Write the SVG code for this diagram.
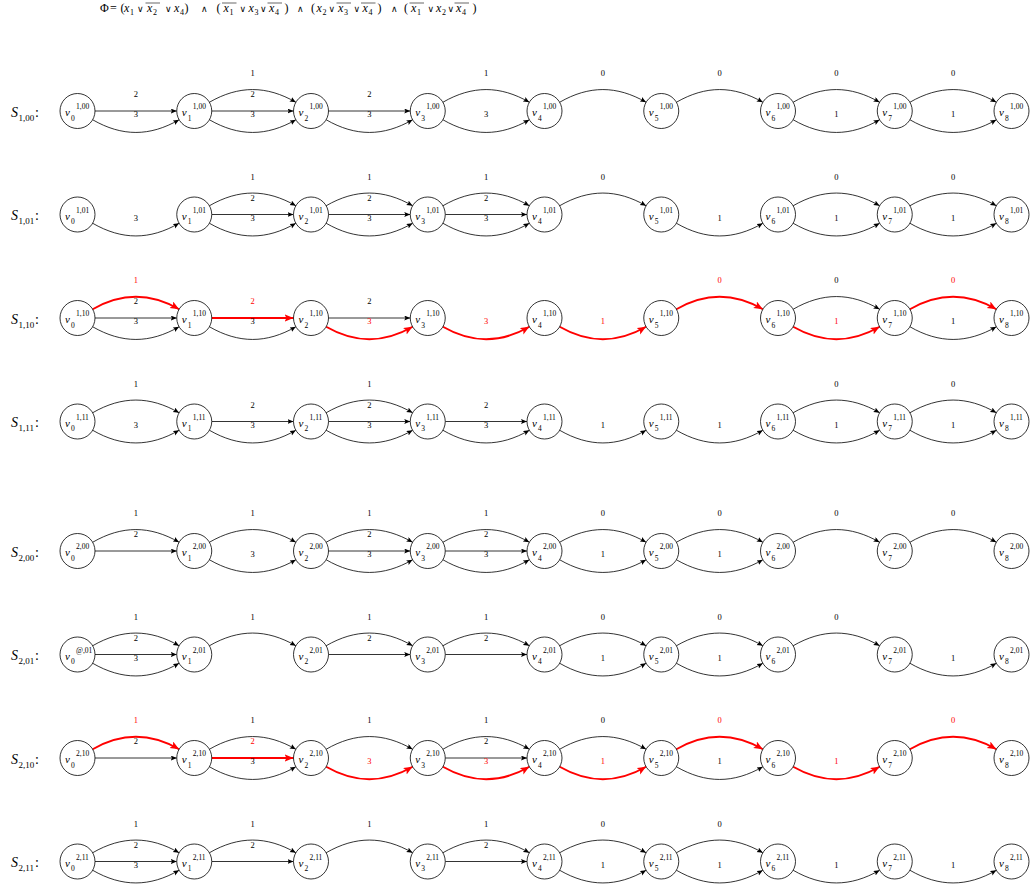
<svg xmlns="http://www.w3.org/2000/svg" width="1031" height="890" viewBox="0 0 1031 890">
<style>
.nd circle{fill:#fff;stroke:#000;stroke-width:0.8}
.v{font-family:"Liberation Serif",serif;font-style:italic;font-size:11px;fill:#000}
.s{font-style:normal;font-size:7.5px}
.e{fill:none;stroke:#000;stroke-width:0.8;marker-end:url(#ak)}
.er{fill:none;stroke:#f00;stroke-width:2;marker-end:url(#ar)}
.l{font-family:"Liberation Serif",serif;font-size:8.5px;text-anchor:middle;fill:#000}
.lr{fill:#f00}
.S{font-family:"Liberation Serif",serif;font-size:14px;font-style:italic}
.Ss{font-style:normal;font-size:9px}
.n{font-style:normal}
.f{font-family:"Liberation Serif","DejaVu Serif",serif;font-size:12px}
.fi{font-style:italic}
.fs{font-size:8px;font-style:normal}
.op{font-family:"DejaVu Serif",serif;font-size:9px}
.ov{stroke:#000;stroke-width:0.6}
</style>
<defs>
<marker id="ak" markerUnits="userSpaceOnUse" markerWidth="8" markerHeight="6" refX="6" refY="2.5" orient="auto"><path d="M0,0 L6,2.5 L0,5 L1.2,2.5 z" fill="#000"/></marker>
<marker id="ar" markerUnits="userSpaceOnUse" markerWidth="12" markerHeight="10" refX="9" refY="3.75" orient="auto"><path d="M0,0 L9,3.75 L0,7.5 L2,3.75 z" fill="#f00"/></marker>
</defs>
<g id="formula">
<text class="f" y="12"><tspan x="100">Φ</tspan><tspan x="110">=</tspan><tspan x="120.5">(</tspan><tspan class="fi" x="124">x</tspan><tspan class="fs" x="130" y="14.5">1</tspan><tspan class="op" x="137" y="12">∨</tspan><tspan class="fi" x="147">x</tspan><tspan class="fs" x="153" y="14.5">2</tspan><tspan class="op" x="165" y="12">∨</tspan><tspan class="fi" x="174">x</tspan><tspan class="fs" x="180" y="14.5">4</tspan><tspan x="184.5" y="12">)</tspan><tspan class="op" x="201">∧</tspan><tspan x="216.5">(</tspan><tspan class="fi" x="223.5">x</tspan><tspan class="fs" x="229.5" y="14.5">1</tspan><tspan class="op" x="239.5" y="12">∨</tspan><tspan class="fi" x="248.5">x</tspan><tspan class="fs" x="254.5" y="14.5">3</tspan><tspan class="op" x="260" y="12">∨</tspan><tspan class="fi" x="269">x</tspan><tspan class="fs" x="275" y="14.5">4</tspan><tspan x="284.5" y="12">)</tspan><tspan class="op" x="297">∧</tspan><tspan x="311">(</tspan><tspan class="fi" x="316.5">x</tspan><tspan class="fs" x="322.5" y="14.5">2</tspan><tspan class="op" x="328.5" y="12">∨</tspan><tspan class="fi" x="338">x</tspan><tspan class="fs" x="344" y="14.5">3</tspan><tspan class="op" x="353.5" y="12">∨</tspan><tspan class="fi" x="362.5">x</tspan><tspan class="fs" x="368.5" y="14.5">4</tspan><tspan x="377.5" y="12">)</tspan><tspan class="op" x="391">∧</tspan><tspan x="404">(</tspan><tspan class="fi" x="411">x</tspan><tspan class="fs" x="417" y="14.5">1</tspan><tspan class="op" x="427.5" y="12">∨</tspan><tspan class="fi" x="436">x</tspan><tspan class="fs" x="442" y="14.5">2</tspan><tspan class="op" x="447.5" y="12">∨</tspan><tspan class="fi" x="456">x</tspan><tspan class="fs" x="462" y="14.5">4</tspan><tspan x="472.5" y="12">)</tspan></text>
<line class="ov" x1="145.5" y1="3" x2="160" y2="3"/>
<line class="ov" x1="222" y1="3" x2="236.5" y2="3"/>
<line class="ov" x1="267.5" y1="3" x2="282" y2="3"/>
<line class="ov" x1="336.5" y1="3" x2="351" y2="3"/>
<line class="ov" x1="361" y1="3" x2="375.5" y2="3"/>
<line class="ov" x1="409.5" y1="3" x2="424" y2="3"/>
<line class="ov" x1="454.5" y1="3" x2="469" y2="3"/>
</g>
<g id="row-labels">
<text class="S" x="11" y="116.5">S<tspan class="Ss" x="18.5" y="120.5">1,00</tspan><tspan class="n" x="35" y="116.5">:</tspan></text>
<text class="S" x="11" y="220">S<tspan class="Ss" x="18.5" y="224">1,01</tspan><tspan class="n" x="35" y="220">:</tspan></text>
<text class="S" x="11" y="323.5">S<tspan class="Ss" x="18.5" y="327.5">1,10</tspan><tspan class="n" x="35" y="323.5">:</tspan></text>
<text class="S" x="11" y="427">S<tspan class="Ss" x="18.5" y="431">1,11</tspan><tspan class="n" x="35" y="427">:</tspan></text>
<text class="S" x="11" y="556.5">S<tspan class="Ss" x="18.5" y="560.5">2,00</tspan><tspan class="n" x="35" y="556.5">:</tspan></text>
<text class="S" x="11" y="660">S<tspan class="Ss" x="18.5" y="664">2,01</tspan><tspan class="n" x="35" y="660">:</tspan></text>
<text class="S" x="11" y="763.5">S<tspan class="Ss" x="18.5" y="767.5">2,10</tspan><tspan class="n" x="35" y="763.5">:</tspan></text>
<text class="S" x="11" y="867">S<tspan class="Ss" x="18.5" y="871">2,11</tspan><tspan class="n" x="35" y="867">:</tspan></text>
</g>
<g id="connectors">
<!-- Row 1 y=111 -->
<path class="e" d="M95,111h81.75"/><path class="e" d="M92.66,119.75c29.31,16.92 57.12,16.92 86.43,0"/>
<text class="l" x="135.88" y="97">2</text><text class="l" x="135.88" y="117">3</text>
<path class="e" d="M209.41,102.25c29.31,-16.92 57.12,-16.92 86.43,0"/><path class="e" d="M211.75,111h81.75"/><path class="e" d="M209.41,119.75c29.31,16.92 57.12,16.92 86.43,0"/>
<text class="l" x="252.63" y="76">1</text><text class="l" x="252.63" y="97">2</text><text class="l" x="252.63" y="117">3</text>
<path class="e" d="M328.5,111h81.75"/><path class="e" d="M326.16,119.75c29.31,16.92 57.12,16.92 86.43,0"/>
<text class="l" x="369.38" y="97">2</text><text class="l" x="369.38" y="117">3</text>
<path class="e" d="M442.91,102.25c29.31,-16.92 57.12,-16.92 86.43,0"/><path class="e" d="M442.91,119.75c29.31,16.92 57.12,16.92 86.43,0"/>
<text class="l" x="486.13" y="76">1</text><text class="l" x="486.13" y="117">3</text>
<path class="e" d="M559.66,102.25c29.31,-16.92 57.12,-16.92 86.43,0"/>
<text class="l" x="602.88" y="76">0</text>
<path class="e" d="M676.41,102.25c29.31,-16.92 57.12,-16.92 86.43,0"/>
<text class="l" x="719.63" y="76">0</text>
<path class="e" d="M793.16,102.25c29.31,-16.92 57.12,-16.92 86.43,0"/><path class="e" d="M793.16,119.75c29.31,16.92 57.12,16.92 86.43,0"/>
<text class="l" x="836.38" y="76">0</text><text class="l" x="836.38" y="117">1</text>
<path class="e" d="M909.91,102.25c29.31,-16.92 57.12,-16.92 86.43,0"/><path class="e" d="M909.91,119.75c29.31,16.92 57.12,16.92 86.43,0"/>
<text class="l" x="953.13" y="76">0</text><text class="l" x="953.13" y="117">1</text>
<!-- Row 2 y=214.5 -->
<path class="e" d="M92.66,223.25c29.31,16.92 57.12,16.92 86.43,0"/>
<text class="l" x="135.88" y="220.5">3</text>
<path class="e" d="M209.41,205.75c29.31,-16.92 57.12,-16.92 86.43,0"/><path class="e" d="M211.75,214.5h81.75"/><path class="e" d="M209.41,223.25c29.31,16.92 57.12,16.92 86.43,0"/>
<text class="l" x="252.63" y="179.5">1</text><text class="l" x="252.63" y="200.5">2</text><text class="l" x="252.63" y="220.5">3</text>
<path class="e" d="M326.16,205.75c29.31,-16.92 57.12,-16.92 86.43,0"/><path class="e" d="M328.5,214.5h81.75"/><path class="e" d="M326.16,223.25c29.31,16.92 57.12,16.92 86.43,0"/>
<text class="l" x="369.38" y="179.5">1</text><text class="l" x="369.38" y="200.5">2</text><text class="l" x="369.38" y="220.5">3</text>
<path class="e" d="M442.91,205.75c29.31,-16.92 57.12,-16.92 86.43,0"/><path class="e" d="M445.25,214.5h81.75"/><path class="e" d="M442.91,223.25c29.31,16.92 57.12,16.92 86.43,0"/>
<text class="l" x="486.13" y="179.5">1</text><text class="l" x="486.13" y="200.5">2</text><text class="l" x="486.13" y="220.5">3</text>
<path class="e" d="M559.66,205.75c29.31,-16.92 57.12,-16.92 86.43,0"/>
<text class="l" x="602.88" y="179.5">0</text>
<path class="e" d="M676.41,223.25c29.31,16.92 57.12,16.92 86.43,0"/>
<text class="l" x="719.63" y="220.5">1</text>
<path class="e" d="M793.16,205.75c29.31,-16.92 57.12,-16.92 86.43,0"/><path class="e" d="M793.16,223.25c29.31,16.92 57.12,16.92 86.43,0"/>
<text class="l" x="836.38" y="179.5">0</text><text class="l" x="836.38" y="220.5">1</text>
<path class="e" d="M909.91,205.75c29.31,-16.92 57.12,-16.92 86.43,0"/><path class="e" d="M909.91,223.25c29.31,16.92 57.12,16.92 86.43,0"/>
<text class="l" x="953.13" y="179.5">0</text><text class="l" x="953.13" y="220.5">1</text>
<!-- Row 3 y=318 -->
<path class="er" d="M92.66,309.25c29.31,-16.92 57.12,-16.92 86.43,0"/><path class="e" d="M95,318h81.75"/><path class="e" d="M92.66,326.75c29.31,16.92 57.12,16.92 86.43,0"/>
<text class="l lr" x="135.88" y="283">1</text><text class="l" x="135.88" y="304">2</text><text class="l" x="135.88" y="324">3</text>
<path class="er" d="M211.75,318h81.75"/><path class="e" d="M209.41,326.75c29.31,16.92 57.12,16.92 86.43,0"/>
<text class="l lr" x="252.63" y="304">2</text><text class="l" x="252.63" y="324">3</text>
<path class="e" d="M328.5,318h81.75"/><path class="er" d="M326.16,326.75c29.31,16.92 57.12,16.92 86.43,0"/>
<text class="l" x="369.38" y="304">2</text><text class="l lr" x="369.38" y="324">3</text>
<path class="er" d="M442.91,326.75c29.31,16.92 57.12,16.92 86.43,0"/>
<text class="l lr" x="486.13" y="324">3</text>
<path class="er" d="M559.66,326.75c29.31,16.92 57.12,16.92 86.43,0"/>
<text class="l lr" x="602.88" y="324">1</text>
<path class="er" d="M676.41,309.25c29.31,-16.92 57.12,-16.92 86.43,0"/>
<text class="l lr" x="719.63" y="283">0</text>
<path class="e" d="M793.16,309.25c29.31,-16.92 57.12,-16.92 86.43,0"/><path class="er" d="M793.16,326.75c29.31,16.92 57.12,16.92 86.43,0"/>
<text class="l" x="836.38" y="283">0</text><text class="l lr" x="836.38" y="324">1</text>
<path class="er" d="M909.91,309.25c29.31,-16.92 57.12,-16.92 86.43,0"/><path class="e" d="M909.91,326.75c29.31,16.92 57.12,16.92 86.43,0"/>
<text class="l lr" x="953.13" y="283">0</text><text class="l" x="953.13" y="324">1</text>
<!-- Row 4 y=421.5 -->
<path class="e" d="M92.66,412.75c29.31,-16.92 57.12,-16.92 86.43,0"/><path class="e" d="M92.66,430.25c29.31,16.92 57.12,16.92 86.43,0"/>
<text class="l" x="135.88" y="386.5">1</text><text class="l" x="135.88" y="427.5">3</text>
<path class="e" d="M211.75,421.5h81.75"/><path class="e" d="M209.41,430.25c29.31,16.92 57.12,16.92 86.43,0"/>
<text class="l" x="252.63" y="407.5">2</text><text class="l" x="252.63" y="427.5">3</text>
<path class="e" d="M326.16,412.75c29.31,-16.92 57.12,-16.92 86.43,0"/><path class="e" d="M328.5,421.5h81.75"/><path class="e" d="M326.16,430.25c29.31,16.92 57.12,16.92 86.43,0"/>
<text class="l" x="369.38" y="386.5">1</text><text class="l" x="369.38" y="407.5">2</text><text class="l" x="369.38" y="427.5">3</text>
<path class="e" d="M445.25,421.5h81.75"/><path class="e" d="M442.91,430.25c29.31,16.92 57.12,16.92 86.43,0"/>
<text class="l" x="486.13" y="407.5">2</text><text class="l" x="486.13" y="427.5">3</text>
<path class="e" d="M559.66,430.25c29.31,16.92 57.12,16.92 86.43,0"/>
<text class="l" x="602.88" y="427.5">1</text>
<path class="e" d="M676.41,430.25c29.31,16.92 57.12,16.92 86.43,0"/>
<text class="l" x="719.63" y="427.5">1</text>
<path class="e" d="M793.16,412.75c29.31,-16.92 57.12,-16.92 86.43,0"/><path class="e" d="M793.16,430.25c29.31,16.92 57.12,16.92 86.43,0"/>
<text class="l" x="836.38" y="386.5">0</text><text class="l" x="836.38" y="427.5">1</text>
<path class="e" d="M909.91,412.75c29.31,-16.92 57.12,-16.92 86.43,0"/><path class="e" d="M909.91,430.25c29.31,16.92 57.12,16.92 86.43,0"/>
<text class="l" x="953.13" y="386.5">0</text><text class="l" x="953.13" y="427.5">1</text>
<!-- Row 5 y=551 -->
<path class="e" d="M92.66,542.25c29.31,-16.92 57.12,-16.92 86.43,0"/><path class="e" d="M95,551h81.75"/>
<text class="l" x="135.88" y="516">1</text><text class="l" x="135.88" y="537">2</text>
<path class="e" d="M209.41,542.25c29.31,-16.92 57.12,-16.92 86.43,0"/><path class="e" d="M209.41,559.75c29.31,16.92 57.12,16.92 86.43,0"/>
<text class="l" x="252.63" y="516">1</text><text class="l" x="252.63" y="557">3</text>
<path class="e" d="M326.16,542.25c29.31,-16.92 57.12,-16.92 86.43,0"/><path class="e" d="M328.5,551h81.75"/><path class="e" d="M326.16,559.75c29.31,16.92 57.12,16.92 86.43,0"/>
<text class="l" x="369.38" y="516">1</text><text class="l" x="369.38" y="537">2</text><text class="l" x="369.38" y="557">3</text>
<path class="e" d="M442.91,542.25c29.31,-16.92 57.12,-16.92 86.43,0"/><path class="e" d="M445.25,551h81.75"/><path class="e" d="M442.91,559.75c29.31,16.92 57.12,16.92 86.43,0"/>
<text class="l" x="486.13" y="516">1</text><text class="l" x="486.13" y="537">2</text><text class="l" x="486.13" y="557">3</text>
<path class="e" d="M559.66,542.25c29.31,-16.92 57.12,-16.92 86.43,0"/><path class="e" d="M559.66,559.75c29.31,16.92 57.12,16.92 86.43,0"/>
<text class="l" x="602.88" y="516">0</text><text class="l" x="602.88" y="557">1</text>
<path class="e" d="M676.41,542.25c29.31,-16.92 57.12,-16.92 86.43,0"/><path class="e" d="M676.41,559.75c29.31,16.92 57.12,16.92 86.43,0"/>
<text class="l" x="719.63" y="516">0</text><text class="l" x="719.63" y="557">1</text>
<path class="e" d="M793.16,542.25c29.31,-16.92 57.12,-16.92 86.43,0"/>
<text class="l" x="836.38" y="516">0</text>
<path class="e" d="M909.91,542.25c29.31,-16.92 57.12,-16.92 86.43,0"/>
<text class="l" x="953.13" y="516">0</text>
<!-- Row 6 y=654.5 -->
<path class="e" d="M92.66,645.75c29.31,-16.92 57.12,-16.92 86.43,0"/><path class="e" d="M95,654.5h81.75"/><path class="e" d="M92.66,663.25c29.31,16.92 57.12,16.92 86.43,0"/>
<text class="l" x="135.88" y="619.5">1</text><text class="l" x="135.88" y="640.5">2</text><text class="l" x="135.88" y="660.5">3</text>
<path class="e" d="M209.41,645.75c29.31,-16.92 57.12,-16.92 86.43,0"/>
<text class="l" x="252.63" y="619.5">1</text>
<path class="e" d="M326.16,645.75c29.31,-16.92 57.12,-16.92 86.43,0"/><path class="e" d="M328.5,654.5h81.75"/>
<text class="l" x="369.38" y="619.5">1</text><text class="l" x="369.38" y="640.5">2</text>
<path class="e" d="M442.91,645.75c29.31,-16.92 57.12,-16.92 86.43,0"/><path class="e" d="M445.25,654.5h81.75"/>
<text class="l" x="486.13" y="619.5">1</text><text class="l" x="486.13" y="640.5">2</text>
<path class="e" d="M559.66,645.75c29.31,-16.92 57.12,-16.92 86.43,0"/><path class="e" d="M559.66,663.25c29.31,16.92 57.12,16.92 86.43,0"/>
<text class="l" x="602.88" y="619.5">0</text><text class="l" x="602.88" y="660.5">1</text>
<path class="e" d="M676.41,645.75c29.31,-16.92 57.12,-16.92 86.43,0"/><path class="e" d="M676.41,663.25c29.31,16.92 57.12,16.92 86.43,0"/>
<text class="l" x="719.63" y="619.5">0</text><text class="l" x="719.63" y="660.5">1</text>
<path class="e" d="M793.16,645.75c29.31,-16.92 57.12,-16.92 86.43,0"/>
<text class="l" x="836.38" y="619.5">0</text>
<path class="e" d="M909.91,663.25c29.31,16.92 57.12,16.92 86.43,0"/>
<text class="l" x="953.13" y="660.5">1</text>
<!-- Row 7 y=758 -->
<path class="er" d="M92.66,749.25c29.31,-16.92 57.12,-16.92 86.43,0"/><path class="e" d="M95,758h81.75"/>
<text class="l lr" x="135.88" y="723">1</text><text class="l" x="135.88" y="744">2</text>
<path class="e" d="M209.41,749.25c29.31,-16.92 57.12,-16.92 86.43,0"/><path class="er" d="M211.75,758h81.75"/><path class="e" d="M209.41,766.75c29.31,16.92 57.12,16.92 86.43,0"/>
<text class="l" x="252.63" y="723">1</text><text class="l lr" x="252.63" y="744">2</text><text class="l" x="252.63" y="764">3</text>
<path class="e" d="M326.16,749.25c29.31,-16.92 57.12,-16.92 86.43,0"/><path class="er" d="M326.16,766.75c29.31,16.92 57.12,16.92 86.43,0"/>
<text class="l" x="369.38" y="723">1</text><text class="l lr" x="369.38" y="764">3</text>
<path class="e" d="M442.91,749.25c29.31,-16.92 57.12,-16.92 86.43,0"/><path class="e" d="M445.25,758h81.75"/><path class="er" d="M442.91,766.75c29.31,16.92 57.12,16.92 86.43,0"/>
<text class="l" x="486.13" y="723">1</text><text class="l" x="486.13" y="744">2</text><text class="l lr" x="486.13" y="764">3</text>
<path class="e" d="M559.66,749.25c29.31,-16.92 57.12,-16.92 86.43,0"/><path class="er" d="M559.66,766.75c29.31,16.92 57.12,16.92 86.43,0"/>
<text class="l" x="602.88" y="723">0</text><text class="l lr" x="602.88" y="764">1</text>
<path class="er" d="M676.41,749.25c29.31,-16.92 57.12,-16.92 86.43,0"/><path class="e" d="M676.41,766.75c29.31,16.92 57.12,16.92 86.43,0"/>
<text class="l lr" x="719.63" y="723">0</text><text class="l" x="719.63" y="764">1</text>
<path class="er" d="M793.16,766.75c29.31,16.92 57.12,16.92 86.43,0"/>
<text class="l lr" x="836.38" y="764">1</text>
<path class="er" d="M909.91,749.25c29.31,-16.92 57.12,-16.92 86.43,0"/>
<text class="l lr" x="953.13" y="723">0</text>
<!-- Row 8 y=861.5 -->
<path class="e" d="M92.66,852.75c29.31,-16.92 57.12,-16.92 86.43,0"/><path class="e" d="M95,861.5h81.75"/><path class="e" d="M92.66,870.25c29.31,16.92 57.12,16.92 86.43,0"/>
<text class="l" x="135.88" y="826.5">1</text><text class="l" x="135.88" y="847.5">2</text><text class="l" x="135.88" y="867.5">3</text>
<path class="e" d="M209.41,852.75c29.31,-16.92 57.12,-16.92 86.43,0"/><path class="e" d="M211.75,861.5h81.75"/>
<text class="l" x="252.63" y="826.5">1</text><text class="l" x="252.63" y="847.5">2</text>
<path class="e" d="M326.16,852.75c29.31,-16.92 57.12,-16.92 86.43,0"/>
<text class="l" x="369.38" y="826.5">1</text>
<path class="e" d="M442.91,852.75c29.31,-16.92 57.12,-16.92 86.43,0"/><path class="e" d="M445.25,861.5h81.75"/>
<text class="l" x="486.13" y="826.5">1</text><text class="l" x="486.13" y="847.5">2</text>
<path class="e" d="M559.66,852.75c29.31,-16.92 57.12,-16.92 86.43,0"/><path class="e" d="M559.66,870.25c29.31,16.92 57.12,16.92 86.43,0"/>
<text class="l" x="602.88" y="826.5">0</text><text class="l" x="602.88" y="867.5">1</text>
<path class="e" d="M676.41,852.75c29.31,-16.92 57.12,-16.92 86.43,0"/><path class="e" d="M676.41,870.25c29.31,16.92 57.12,16.92 86.43,0"/>
<text class="l" x="719.63" y="826.5">0</text><text class="l" x="719.63" y="867.5">1</text>
<path class="e" d="M793.16,870.25c29.31,16.92 57.12,16.92 86.43,0"/>
<text class="l" x="836.38" y="867.5">1</text>
<path class="e" d="M909.91,870.25c29.31,16.92 57.12,16.92 86.43,0"/>
<text class="l" x="953.13" y="867.5">1</text>
</g>
<g id="nodes">
<!-- Row 1 -->
<g id="r100-v0" class="nd"><circle cx="77.5" cy="111" r="17.5"/><text class="v" x="65" y="116">v<tspan class="s" x="71" y="120.5">0</tspan><tspan class="s" x="76" y="109">1,00</tspan></text></g>
<g id="r100-v1" class="nd"><circle cx="194.25" cy="111" r="17.5"/><text class="v" x="181.75" y="116">v<tspan class="s" x="187.75" y="120.5">1</tspan><tspan class="s" x="192.75" y="109">1,00</tspan></text></g>
<g id="r100-v2" class="nd"><circle cx="311" cy="111" r="17.5"/><text class="v" x="298.5" y="116">v<tspan class="s" x="304.5" y="120.5">2</tspan><tspan class="s" x="309.5" y="109">1,00</tspan></text></g>
<g id="r100-v3" class="nd"><circle cx="427.75" cy="111" r="17.5"/><text class="v" x="415.25" y="116">v<tspan class="s" x="421.25" y="120.5">3</tspan><tspan class="s" x="426.25" y="109">1,00</tspan></text></g>
<g id="r100-v4" class="nd"><circle cx="544.5" cy="111" r="17.5"/><text class="v" x="532" y="116">v<tspan class="s" x="538" y="120.5">4</tspan><tspan class="s" x="543" y="109">1,00</tspan></text></g>
<g id="r100-v5" class="nd"><circle cx="661.25" cy="111" r="17.5"/><text class="v" x="648.75" y="116">v<tspan class="s" x="654.75" y="120.5">5</tspan><tspan class="s" x="659.75" y="109">1,00</tspan></text></g>
<g id="r100-v6" class="nd"><circle cx="778" cy="111" r="17.5"/><text class="v" x="765.5" y="116">v<tspan class="s" x="771.5" y="120.5">6</tspan><tspan class="s" x="776.5" y="109">1,00</tspan></text></g>
<g id="r100-v7" class="nd"><circle cx="894.75" cy="111" r="17.5"/><text class="v" x="882.25" y="116">v<tspan class="s" x="888.25" y="120.5">7</tspan><tspan class="s" x="893.25" y="109">1,00</tspan></text></g>
<g id="r100-v8" class="nd"><circle cx="1011.5" cy="111" r="17.5"/><text class="v" x="999" y="116">v<tspan class="s" x="1005" y="120.5">8</tspan><tspan class="s" x="1010" y="109">1,00</tspan></text></g>
<!-- Row 2 -->
<g id="r101-v0" class="nd"><circle cx="77.5" cy="214.5" r="17.5"/><text class="v" x="65" y="219.5">v<tspan class="s" x="71" y="224">0</tspan><tspan class="s" x="76" y="212.5">1,01</tspan></text></g>
<g id="r101-v1" class="nd"><circle cx="194.25" cy="214.5" r="17.5"/><text class="v" x="181.75" y="219.5">v<tspan class="s" x="187.75" y="224">1</tspan><tspan class="s" x="192.75" y="212.5">1,01</tspan></text></g>
<g id="r101-v2" class="nd"><circle cx="311" cy="214.5" r="17.5"/><text class="v" x="298.5" y="219.5">v<tspan class="s" x="304.5" y="224">2</tspan><tspan class="s" x="309.5" y="212.5">1,01</tspan></text></g>
<g id="r101-v3" class="nd"><circle cx="427.75" cy="214.5" r="17.5"/><text class="v" x="415.25" y="219.5">v<tspan class="s" x="421.25" y="224">3</tspan><tspan class="s" x="426.25" y="212.5">1,01</tspan></text></g>
<g id="r101-v4" class="nd"><circle cx="544.5" cy="214.5" r="17.5"/><text class="v" x="532" y="219.5">v<tspan class="s" x="538" y="224">4</tspan><tspan class="s" x="543" y="212.5">1,01</tspan></text></g>
<g id="r101-v5" class="nd"><circle cx="661.25" cy="214.5" r="17.5"/><text class="v" x="648.75" y="219.5">v<tspan class="s" x="654.75" y="224">5</tspan><tspan class="s" x="659.75" y="212.5">1,01</tspan></text></g>
<g id="r101-v6" class="nd"><circle cx="778" cy="214.5" r="17.5"/><text class="v" x="765.5" y="219.5">v<tspan class="s" x="771.5" y="224">6</tspan><tspan class="s" x="776.5" y="212.5">1,01</tspan></text></g>
<g id="r101-v7" class="nd"><circle cx="894.75" cy="214.5" r="17.5"/><text class="v" x="882.25" y="219.5">v<tspan class="s" x="888.25" y="224">7</tspan><tspan class="s" x="893.25" y="212.5">1,01</tspan></text></g>
<g id="r101-v8" class="nd"><circle cx="1011.5" cy="214.5" r="17.5"/><text class="v" x="999" y="219.5">v<tspan class="s" x="1005" y="224">8</tspan><tspan class="s" x="1010" y="212.5">1,01</tspan></text></g>
<!-- Row 3 -->
<g id="r110-v0" class="nd"><circle cx="77.5" cy="318" r="17.5"/><text class="v" x="65" y="323">v<tspan class="s" x="71" y="327.5">0</tspan><tspan class="s" x="76" y="316">1,10</tspan></text></g>
<g id="r110-v1" class="nd"><circle cx="194.25" cy="318" r="17.5"/><text class="v" x="181.75" y="323">v<tspan class="s" x="187.75" y="327.5">1</tspan><tspan class="s" x="192.75" y="316">1,10</tspan></text></g>
<g id="r110-v2" class="nd"><circle cx="311" cy="318" r="17.5"/><text class="v" x="298.5" y="323">v<tspan class="s" x="304.5" y="327.5">2</tspan><tspan class="s" x="309.5" y="316">1,10</tspan></text></g>
<g id="r110-v3" class="nd"><circle cx="427.75" cy="318" r="17.5"/><text class="v" x="415.25" y="323">v<tspan class="s" x="421.25" y="327.5">3</tspan><tspan class="s" x="426.25" y="316">1,10</tspan></text></g>
<g id="r110-v4" class="nd"><circle cx="544.5" cy="318" r="17.5"/><text class="v" x="532" y="323">v<tspan class="s" x="538" y="327.5">4</tspan><tspan class="s" x="543" y="316">1,10</tspan></text></g>
<g id="r110-v5" class="nd"><circle cx="661.25" cy="318" r="17.5"/><text class="v" x="648.75" y="323">v<tspan class="s" x="654.75" y="327.5">5</tspan><tspan class="s" x="659.75" y="316">1,10</tspan></text></g>
<g id="r110-v6" class="nd"><circle cx="778" cy="318" r="17.5"/><text class="v" x="765.5" y="323">v<tspan class="s" x="771.5" y="327.5">6</tspan><tspan class="s" x="776.5" y="316">1,10</tspan></text></g>
<g id="r110-v7" class="nd"><circle cx="894.75" cy="318" r="17.5"/><text class="v" x="882.25" y="323">v<tspan class="s" x="888.25" y="327.5">7</tspan><tspan class="s" x="893.25" y="316">1,10</tspan></text></g>
<g id="r110-v8" class="nd"><circle cx="1011.5" cy="318" r="17.5"/><text class="v" x="999" y="323">v<tspan class="s" x="1005" y="327.5">8</tspan><tspan class="s" x="1010" y="316">1,10</tspan></text></g>
<!-- Row 4 -->
<g id="r111-v0" class="nd"><circle cx="77.5" cy="421.5" r="17.5"/><text class="v" x="65" y="426.5">v<tspan class="s" x="71" y="431">0</tspan><tspan class="s" x="76" y="419.5">1,11</tspan></text></g>
<g id="r111-v1" class="nd"><circle cx="194.25" cy="421.5" r="17.5"/><text class="v" x="181.75" y="426.5">v<tspan class="s" x="187.75" y="431">1</tspan><tspan class="s" x="192.75" y="419.5">1,11</tspan></text></g>
<g id="r111-v2" class="nd"><circle cx="311" cy="421.5" r="17.5"/><text class="v" x="298.5" y="426.5">v<tspan class="s" x="304.5" y="431">2</tspan><tspan class="s" x="309.5" y="419.5">1,11</tspan></text></g>
<g id="r111-v3" class="nd"><circle cx="427.75" cy="421.5" r="17.5"/><text class="v" x="415.25" y="426.5">v<tspan class="s" x="421.25" y="431">3</tspan><tspan class="s" x="426.25" y="419.5">1,11</tspan></text></g>
<g id="r111-v4" class="nd"><circle cx="544.5" cy="421.5" r="17.5"/><text class="v" x="532" y="426.5">v<tspan class="s" x="538" y="431">4</tspan><tspan class="s" x="543" y="419.5">1,11</tspan></text></g>
<g id="r111-v5" class="nd"><circle cx="661.25" cy="421.5" r="17.5"/><text class="v" x="648.75" y="426.5">v<tspan class="s" x="654.75" y="431">5</tspan><tspan class="s" x="659.75" y="419.5">1,11</tspan></text></g>
<g id="r111-v6" class="nd"><circle cx="778" cy="421.5" r="17.5"/><text class="v" x="765.5" y="426.5">v<tspan class="s" x="771.5" y="431">6</tspan><tspan class="s" x="776.5" y="419.5">1,11</tspan></text></g>
<g id="r111-v7" class="nd"><circle cx="894.75" cy="421.5" r="17.5"/><text class="v" x="882.25" y="426.5">v<tspan class="s" x="888.25" y="431">7</tspan><tspan class="s" x="893.25" y="419.5">1,11</tspan></text></g>
<g id="r111-v8" class="nd"><circle cx="1011.5" cy="421.5" r="17.5"/><text class="v" x="999" y="426.5">v<tspan class="s" x="1005" y="431">8</tspan><tspan class="s" x="1010" y="419.5">1,11</tspan></text></g>
<!-- Row 5 -->
<g id="r200-v0" class="nd"><circle cx="77.5" cy="551" r="17.5"/><text class="v" x="65" y="556">v<tspan class="s" x="71" y="560.5">0</tspan><tspan class="s" x="76" y="549">2,00</tspan></text></g>
<g id="r200-v1" class="nd"><circle cx="194.25" cy="551" r="17.5"/><text class="v" x="181.75" y="556">v<tspan class="s" x="187.75" y="560.5">1</tspan><tspan class="s" x="192.75" y="549">2,00</tspan></text></g>
<g id="r200-v2" class="nd"><circle cx="311" cy="551" r="17.5"/><text class="v" x="298.5" y="556">v<tspan class="s" x="304.5" y="560.5">2</tspan><tspan class="s" x="309.5" y="549">2,00</tspan></text></g>
<g id="r200-v3" class="nd"><circle cx="427.75" cy="551" r="17.5"/><text class="v" x="415.25" y="556">v<tspan class="s" x="421.25" y="560.5">3</tspan><tspan class="s" x="426.25" y="549">2,00</tspan></text></g>
<g id="r200-v4" class="nd"><circle cx="544.5" cy="551" r="17.5"/><text class="v" x="532" y="556">v<tspan class="s" x="538" y="560.5">4</tspan><tspan class="s" x="543" y="549">2,00</tspan></text></g>
<g id="r200-v5" class="nd"><circle cx="661.25" cy="551" r="17.5"/><text class="v" x="648.75" y="556">v<tspan class="s" x="654.75" y="560.5">5</tspan><tspan class="s" x="659.75" y="549">2,00</tspan></text></g>
<g id="r200-v6" class="nd"><circle cx="778" cy="551" r="17.5"/><text class="v" x="765.5" y="556">v<tspan class="s" x="771.5" y="560.5">6</tspan><tspan class="s" x="776.5" y="549">2,00</tspan></text></g>
<g id="r200-v7" class="nd"><circle cx="894.75" cy="551" r="17.5"/><text class="v" x="882.25" y="556">v<tspan class="s" x="888.25" y="560.5">7</tspan><tspan class="s" x="893.25" y="549">2,00</tspan></text></g>
<g id="r200-v8" class="nd"><circle cx="1011.5" cy="551" r="17.5"/><text class="v" x="999" y="556">v<tspan class="s" x="1005" y="560.5">8</tspan><tspan class="s" x="1010" y="549">2,00</tspan></text></g>
<!-- Row 6 -->
<g id="r201-v0" class="nd"><circle cx="77.5" cy="654.5" r="17.5"/><text class="v" x="65" y="659.5">v<tspan class="s" x="71" y="664">0</tspan><tspan class="s" x="76" y="652.5">@,01</tspan></text></g>
<g id="r201-v1" class="nd"><circle cx="194.25" cy="654.5" r="17.5"/><text class="v" x="181.75" y="659.5">v<tspan class="s" x="187.75" y="664">1</tspan><tspan class="s" x="192.75" y="652.5">2,01</tspan></text></g>
<g id="r201-v2" class="nd"><circle cx="311" cy="654.5" r="17.5"/><text class="v" x="298.5" y="659.5">v<tspan class="s" x="304.5" y="664">2</tspan><tspan class="s" x="309.5" y="652.5">2,01</tspan></text></g>
<g id="r201-v3" class="nd"><circle cx="427.75" cy="654.5" r="17.5"/><text class="v" x="415.25" y="659.5">v<tspan class="s" x="421.25" y="664">3</tspan><tspan class="s" x="426.25" y="652.5">2,01</tspan></text></g>
<g id="r201-v4" class="nd"><circle cx="544.5" cy="654.5" r="17.5"/><text class="v" x="532" y="659.5">v<tspan class="s" x="538" y="664">4</tspan><tspan class="s" x="543" y="652.5">2,01</tspan></text></g>
<g id="r201-v5" class="nd"><circle cx="661.25" cy="654.5" r="17.5"/><text class="v" x="648.75" y="659.5">v<tspan class="s" x="654.75" y="664">5</tspan><tspan class="s" x="659.75" y="652.5">2,01</tspan></text></g>
<g id="r201-v6" class="nd"><circle cx="778" cy="654.5" r="17.5"/><text class="v" x="765.5" y="659.5">v<tspan class="s" x="771.5" y="664">6</tspan><tspan class="s" x="776.5" y="652.5">2,01</tspan></text></g>
<g id="r201-v7" class="nd"><circle cx="894.75" cy="654.5" r="17.5"/><text class="v" x="882.25" y="659.5">v<tspan class="s" x="888.25" y="664">7</tspan><tspan class="s" x="893.25" y="652.5">2,01</tspan></text></g>
<g id="r201-v8" class="nd"><circle cx="1011.5" cy="654.5" r="17.5"/><text class="v" x="999" y="659.5">v<tspan class="s" x="1005" y="664">8</tspan><tspan class="s" x="1010" y="652.5">2,01</tspan></text></g>
<!-- Row 7 -->
<g id="r210-v0" class="nd"><circle cx="77.5" cy="758" r="17.5"/><text class="v" x="65" y="763">v<tspan class="s" x="71" y="767.5">0</tspan><tspan class="s" x="76" y="756">2,10</tspan></text></g>
<g id="r210-v1" class="nd"><circle cx="194.25" cy="758" r="17.5"/><text class="v" x="181.75" y="763">v<tspan class="s" x="187.75" y="767.5">1</tspan><tspan class="s" x="192.75" y="756">2,10</tspan></text></g>
<g id="r210-v2" class="nd"><circle cx="311" cy="758" r="17.5"/><text class="v" x="298.5" y="763">v<tspan class="s" x="304.5" y="767.5">2</tspan><tspan class="s" x="309.5" y="756">2,10</tspan></text></g>
<g id="r210-v3" class="nd"><circle cx="427.75" cy="758" r="17.5"/><text class="v" x="415.25" y="763">v<tspan class="s" x="421.25" y="767.5">3</tspan><tspan class="s" x="426.25" y="756">2,10</tspan></text></g>
<g id="r210-v4" class="nd"><circle cx="544.5" cy="758" r="17.5"/><text class="v" x="532" y="763">v<tspan class="s" x="538" y="767.5">4</tspan><tspan class="s" x="543" y="756">2,10</tspan></text></g>
<g id="r210-v5" class="nd"><circle cx="661.25" cy="758" r="17.5"/><text class="v" x="648.75" y="763">v<tspan class="s" x="654.75" y="767.5">5</tspan><tspan class="s" x="659.75" y="756">2,10</tspan></text></g>
<g id="r210-v6" class="nd"><circle cx="778" cy="758" r="17.5"/><text class="v" x="765.5" y="763">v<tspan class="s" x="771.5" y="767.5">6</tspan><tspan class="s" x="776.5" y="756">2,10</tspan></text></g>
<g id="r210-v7" class="nd"><circle cx="894.75" cy="758" r="17.5"/><text class="v" x="882.25" y="763">v<tspan class="s" x="888.25" y="767.5">7</tspan><tspan class="s" x="893.25" y="756">2,10</tspan></text></g>
<g id="r210-v8" class="nd"><circle cx="1011.5" cy="758" r="17.5"/><text class="v" x="999" y="763">v<tspan class="s" x="1005" y="767.5">8</tspan><tspan class="s" x="1010" y="756">2,10</tspan></text></g>
<!-- Row 8 -->
<g id="r211-v0" class="nd"><circle cx="77.5" cy="861.5" r="17.5"/><text class="v" x="65" y="866.5">v<tspan class="s" x="71" y="871">0</tspan><tspan class="s" x="76" y="859.5">2,11</tspan></text></g>
<g id="r211-v1" class="nd"><circle cx="194.25" cy="861.5" r="17.5"/><text class="v" x="181.75" y="866.5">v<tspan class="s" x="187.75" y="871">1</tspan><tspan class="s" x="192.75" y="859.5">2,11</tspan></text></g>
<g id="r211-v2" class="nd"><circle cx="311" cy="861.5" r="17.5"/><text class="v" x="298.5" y="866.5">v<tspan class="s" x="304.5" y="871">2</tspan><tspan class="s" x="309.5" y="859.5">2,11</tspan></text></g>
<g id="r211-v3" class="nd"><circle cx="427.75" cy="861.5" r="17.5"/><text class="v" x="415.25" y="866.5">v<tspan class="s" x="421.25" y="871">3</tspan><tspan class="s" x="426.25" y="859.5">2,11</tspan></text></g>
<g id="r211-v4" class="nd"><circle cx="544.5" cy="861.5" r="17.5"/><text class="v" x="532" y="866.5">v<tspan class="s" x="538" y="871">4</tspan><tspan class="s" x="543" y="859.5">2,11</tspan></text></g>
<g id="r211-v5" class="nd"><circle cx="661.25" cy="861.5" r="17.5"/><text class="v" x="648.75" y="866.5">v<tspan class="s" x="654.75" y="871">5</tspan><tspan class="s" x="659.75" y="859.5">2,11</tspan></text></g>
<g id="r211-v6" class="nd"><circle cx="778" cy="861.5" r="17.5"/><text class="v" x="765.5" y="866.5">v<tspan class="s" x="771.5" y="871">6</tspan><tspan class="s" x="776.5" y="859.5">2,11</tspan></text></g>
<g id="r211-v7" class="nd"><circle cx="894.75" cy="861.5" r="17.5"/><text class="v" x="882.25" y="866.5">v<tspan class="s" x="888.25" y="871">7</tspan><tspan class="s" x="893.25" y="859.5">2,11</tspan></text></g>
<g id="r211-v8" class="nd"><circle cx="1011.5" cy="861.5" r="17.5"/><text class="v" x="999" y="866.5">v<tspan class="s" x="1005" y="871">8</tspan><tspan class="s" x="1010" y="859.5">2,11</tspan></text></g>
</g>
</svg>
